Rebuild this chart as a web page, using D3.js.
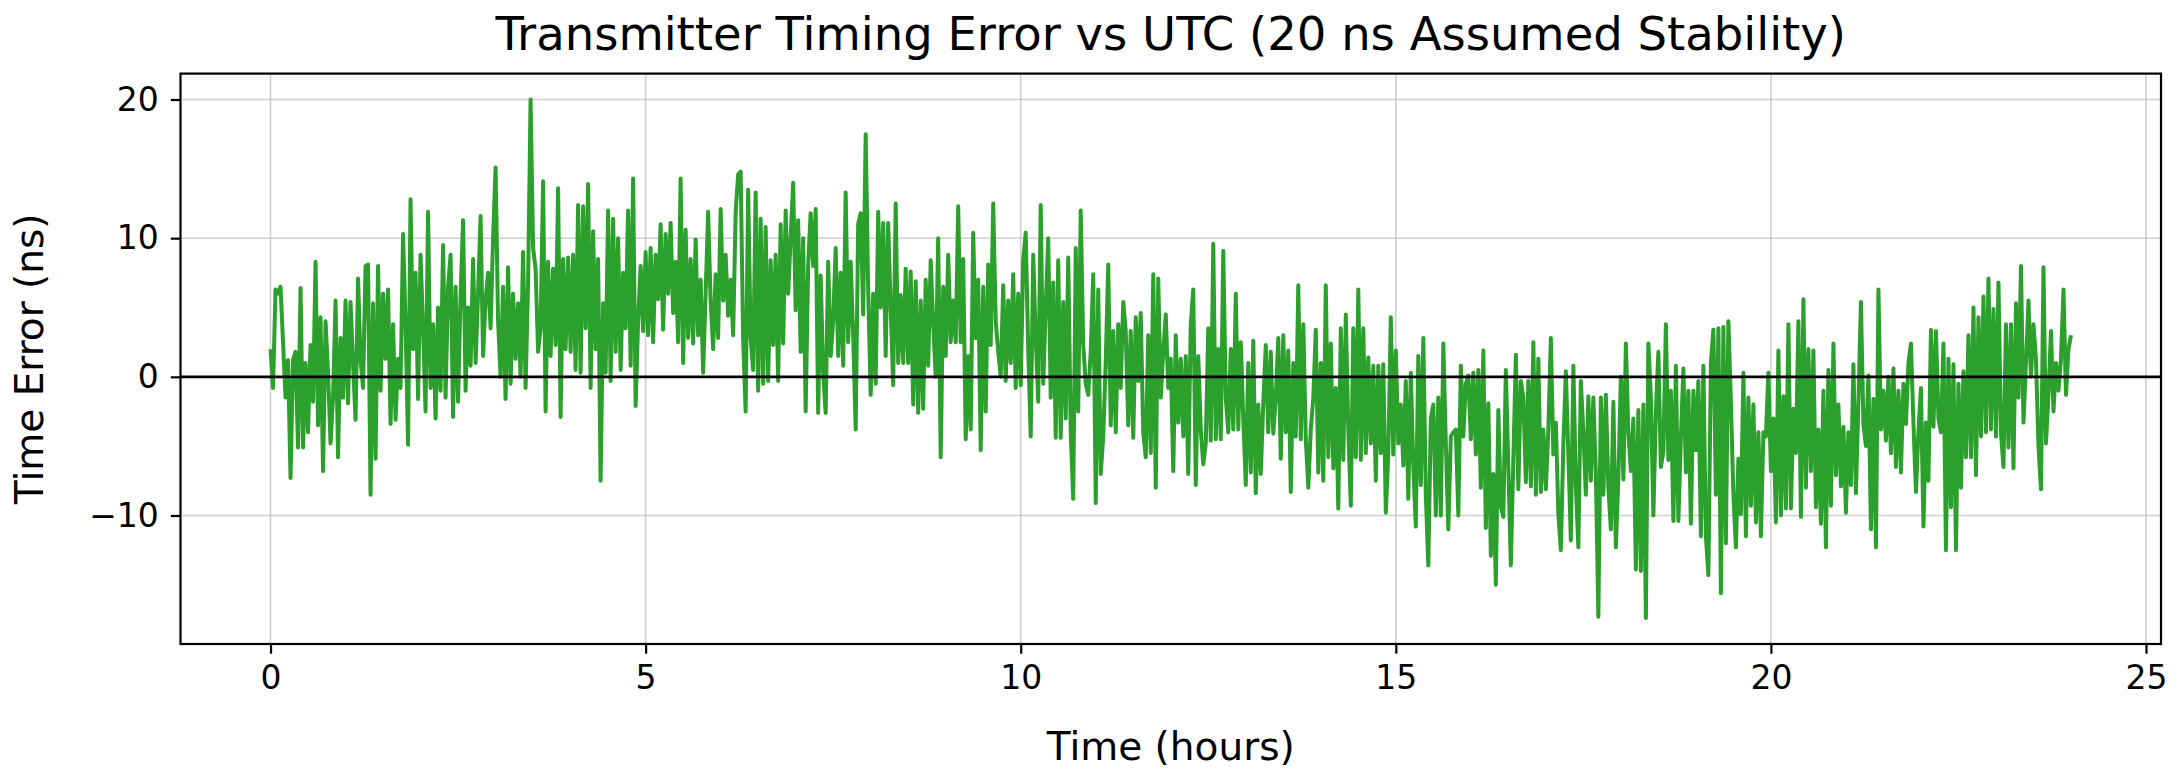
<!DOCTYPE html>
<html>
<head>
<meta charset="utf-8">
<script src="https://cdn.jsdelivr.net/npm/d3@7"></script>
<style>
  html, body { margin: 0; padding: 0; background: #fff; }
  svg { display: block; font-family: "DejaVu Sans", sans-serif; }
</style>
</head>
<body>
<div id="chart"></div>
<script>
// one sample every 2 minutes, 0 .. 24 h
var SAMPLE_MINUTES = 2;

// time error in ns in ~2 h blocks
var errorBlock1 = [2.0, -0.8, 6.3, 6.0, 6.5, 2.5, -1.5, 1.2, -7.3, 1.2, 1.8, -5.1, 6.4, -5.1, 1.0, -4.0, 2.3, -1.8, 8.3, -3.5, 4.3, -6.8, 4.0, 0.3, -4.8, -1.5, 5.5, -5.8, 2.8, -1.5, 5.5, -1.9, 5.4, 1.0, -3.1, 7.1, 1.2, -0.8, 8.0, 8.1, -8.5, 5.3, -5.9, 8.0, -1.0, 6.0, 1.3, 6.3, -3.4, 3.8, -3.1, 1.3, -0.8, 10.3, 3.8, -4.9, 12.8, 2.0];
var errorBlock2 = [7.5, -1.6, 8.8, 3.5, -2.5, 11.9, -0.8, 3.8, -3.0, 5.0, -1.0, 9.5, -1.5, 6.5, 8.8, -2.9, 6.5, -1.8, 5.8, 11.3, -1.0, 5.0, 0.8, 8.5, 1.0, 6.0, 11.6, 1.5, 5.5, 7.5, 3.5, 10.0, 15.1, 4.0, 0.0, 6.5, -1.6, 7.9, -0.5, 6.0, 1.3, 5.3, 0.0, 9.0, -0.8, 6.8, 20.0, 9.3, 7.8, 1.8, 3.5, 14.1, -2.5, 8.3, 1.5, 7.8, 2.3, 13.6, -2.9, 8.5];
var errorBlock3 = [2.0, 8.6, 1.8, 8.8, 0.5, 12.4, 0.3, 12.3, 3.5, 13.9, -0.8, 10.5, 2.0, 8.5, -7.5, 5.3, 0.3, 12.0, -0.3, 11.4, 1.8, 10.0, 0.5, 7.5, 3.5, 12.0, 0.8, 14.3, -2.1, 4.0, 8.0, 3.3, 9.0, 3.0, 9.3, 2.5, 8.8, 5.6, 11.0, 3.4, 10.3, 6.0, 11.1, 4.6, 8.3, 2.5, 14.3, 1.0, 10.6, 2.8, 8.5, 2.4, 9.9, 3.0, 7.0, 0.3, 6.0, 11.9, 5.5, 2.0];
var errorBlock4 = [7.4, 2.8, 12.1, 5.5, 8.8, 4.4, 7.0, 3.0, 11.8, 14.6, 14.8, 2.8, -2.5, 13.5, 2.8, 0.5, 13.3, -1.0, 11.4, -0.5, 10.8, -0.3, 8.4, 2.3, 8.8, -0.3, 11.0, 2.4, 12.0, 6.0, 10.0, 14.0, 4.8, 11.3, 1.8, 10.0, -2.5, 8.0, 11.8, 8.0, 12.1, -2.6, 7.3, 0.3, -2.6, 8.3, 1.5, 4.0, 9.3, 1.5, 7.5, 0.8, 13.3, 2.5, 8.3, 3.0, -3.8, 11.0, 11.8, 4.5];
var errorBlock5 = [17.5, 6.3, -1.3, 6.0, -0.5, 11.9, 5.0, 11.1, 1.5, 11.1, 5.0, -0.6, 12.5, 1.0, 5.9, 1.0, 7.8, 1.0, 7.6, -2.0, 6.9, -2.6, 5.5, -2.3, 7.0, 0.8, 8.4, 3.8, 0.0, 10.0, -5.8, 6.5, 1.5, 8.8, 2.5, 5.5, 2.5, 12.3, 2.5, 8.5, -4.5, 1.5, -3.8, 10.4, 2.8, 7.0, -5.3, 6.5, -2.5, 8.1, 2.3, 12.5, 4.0, 1.8, 0.0, 6.6, -0.3, 5.5, 1.0, 7.4];
var errorBlock6 = [-0.8, 6.0, -0.6, 8.4, 10.4, 2.0, -4.3, 8.8, 2.8, -1.8, 12.4, -0.5, 5.0, 10.0, -1.5, 6.8, -4.4, 8.4, -4.4, 5.4, -3.0, 8.6, -4.0, -8.8, 9.3, -2.5, 12.0, 2.3, -0.5, -1.3, 1.8, 7.4, -9.1, 6.3, -7.0, -4.3, 1.1, 8.1, -3.5, 3.3, -4.0, 3.8, -0.8, 5.4, 3.3, -3.5, 3.3, -4.4, 4.3, -0.3, 4.6, -4.0, -5.8, 3.0, -5.5, 7.4, -8.0, 7.1, -1.5, 1.8];
var errorBlock7 = [4.5, -0.8, 1.3, -6.8, 3.0, -3.3, 1.3, -4.3, 1.5, -7.0, 3.8, 6.3, -7.8, 1.5, -3.8, -6.3, -4.8, 3.5, -4.6, 9.6, -4.5, 2.0, -4.5, 9.1, -1.5, -4.0, 2.0, -3.8, 6.0, -3.8, 2.5, -3.0, -7.8, 1.0, -6.9, 2.6, -8.4, -2.0, -7.0, -1.9, 2.3, -4.0, 1.8, -4.1, -1.5, 2.8, -5.9, 3.0, -4.0, 1.9, -8.3, 1.0, -4.3, 6.6, -4.5, 3.8, -4.5, -8.0, -3.8, -1.5];
var errorBlock8 = [3.4, -6.9, 1.0, -7.5, 6.6, -5.8, 2.4, -6.6, -0.8, -9.5, 3.5, -6.0, 4.5, -3.8, -9.3, 3.5, -5.8, 6.3, -6.0, 3.5, -5.5, 1.4, -4.8, 0.8, -7.5, 0.8, -5.5, 0.9, -9.8, -5.6, 4.3, -5.6, 1.9, -4.8, -2.0, -6.4, -0.3, -8.8, 0.3, -6.5, -10.8, 1.5, -7.8, 2.8, -8.5, -13.6, -3.0, -2.0, -10.0, -1.5, -10.0, 2.4, -4.8, -11.0, -4.3, -4.0, -3.8, -10.0, 0.8, -4.3];
var errorBlock9 = [-0.5, 0.1, -4.5, 0.3, -5.6, 0.5, -8.0, 1.9, -10.9, -1.9, -12.9, -7.0, -15.0, -2.4, -9.4, -10.1, 0.5, -6.5, -13.6, -6.0, 1.6, -8.1, -0.3, -1.5, -7.6, -0.3, -7.9, 2.5, -8.5, 1.3, -8.3, -3.8, -8.1, -3.8, 2.8, -5.6, -3.3, -9.9, -12.5, -4.9, 0.4, -5.6, -11.8, 0.8, -7.8, -12.3, -0.3, -4.0, -8.5, -1.4, -7.5, -1.5, -7.0, -17.3, -1.5, -8.5, -1.3, -8.0, -11.0, -1.8];
var errorBlock10 = [-12.3, -7.3, 0.0, -7.4, 2.4, -4.0, -6.8, -3.0, -13.9, -2.4, -14.0, -2.0, -17.4, 2.4, -1.5, -10.0, -2.5, 1.8, -6.5, -5.4, 3.8, -6.0, -1.0, -10.4, 0.8, -10.4, -4.4, 0.6, -6.9, -1.0, -10.6, -1.0, -5.3, -0.3, -11.5, 0.8, -11.5, -14.3, 1.0, 3.4, -8.5, 3.5, -15.6, 3.6, -12.0, 4.0, -1.8, -8.5, -12.3, -5.9, -9.9, 0.3, -11.5, -1.5, -9.3, -2.0, -10.5, -4.0, -11.5, -4.0];
var errorBlock11 = [-4.3, 0.3, -6.8, -3.0, -10.5, 1.9, -10.0, -1.4, -9.5, 3.8, -9.5, -2.3, -5.5, 4.0, -10.1, 5.6, -8.0, 2.0, -6.8, 1.9, -9.4, -3.8, -10.6, -1.0, -12.3, 0.5, -9.3, 2.4, -7.1, -2.0, -7.9, -3.6, -9.8, -4.0, -7.8, 0.9, -8.4, -1.8, 5.4, -3.4, -5.0, 0.1, -11.0, -1.6, -12.3, 6.3, -3.8, -1.0, -4.6, 0.0, -5.5, 0.6, -6.5, -1.0, -6.9, -0.5, -3.4, 1.0, 2.4, -3.3];
var errorBlock12 = [-8.3, -4.0, -0.8, -10.8, -3.3, -7.5, 3.4, -3.6, 3.3, -3.0, -4.0, 2.4, -12.5, 1.3, -9.4, 0.9, -12.5, -0.5, -8.0, 0.4, -5.8, 3.0, -5.8, 5.0, -7.1, 4.3, -4.3, 5.8, -4.0, 7.1, -3.8, 4.9, -4.3, 6.8, -4.0, -6.5, 3.8, -5.1, 3.8, -6.6, 5.3, -1.5, 8.0, -3.3, 1.0, 5.5, 0.0, 3.8, 1.3, -5.0, -8.1, 7.9, -4.8, -1.3, 3.3, -2.5, 1.0, -1.0, 1.3, 6.3, -1.3, 2.0, 3.0];

var xTicks = [0, 5, 10, 15, 20, 25];
var yTicks = [-10, 0, 10, 20];

var titleText = "Transmitter Timing Error vs UTC (20 ns Assumed Stability)";
var xLabelText = "Time (hours)";
var yLabelText = "Time Error (ns)";

var errorNs = [].concat(errorBlock1, errorBlock2, errorBlock3, errorBlock4, errorBlock5, errorBlock6,
  errorBlock7, errorBlock8, errorBlock9, errorBlock10, errorBlock11, errorBlock12);
var series = errorNs.map(function (v, i) { return { t: i * SAMPLE_MINUTES / 60, v: v }; });

//Define dimensions
var W = 2177, H = 768;
var plot = { left: 180.5, right: 2161, top: 73.6, bottom: 644 };

var svg = d3.select("#chart").append("svg")
  .attr("width", W)
  .attr("height", H);

//matplotlib style 5% margins
var tExt = d3.extent(series, function (d) { return d.t; });
var vExt = d3.extent(series, function (d) { return d.v; });
var tPad = (tExt[1] - tExt[0]) * 0.05, vPad = (vExt[1] - vExt[0]) * 0.05;

var x = d3.scaleLinear()
  .domain([tExt[0] - tPad, tExt[1] + tPad])
  .range([plot.left, plot.right]);
var y = d3.scaleLinear()
  .domain([vExt[0] - vPad, vExt[1] + vPad])
  .range([plot.bottom, plot.top]);

function fmt(d) { return d < 0 ? "\u2212" + Math.abs(d) : String(d); }

//grid (below the data)
var grid = svg.append("g").attr("class", "grid")
  .attr("stroke", "#b0b0b0").attr("stroke-opacity", 0.6).attr("stroke-width", 1.6);
grid.selectAll("line.gx").data(xTicks).enter().append("line")
  .attr("x1", function (d) { return x(d); }).attr("x2", function (d) { return x(d); })
  .attr("y1", plot.top).attr("y2", plot.bottom);
grid.selectAll("line.gy").data(yTicks).enter().append("line")
  .attr("x1", plot.left).attr("x2", plot.right)
  .attr("y1", function (d) { return y(d); }).attr("y2", function (d) { return y(d); });

//the series
var line = d3.line()
  .x(function (d) { return x(d.t); })
  .y(function (d) { return y(d.v); });

svg.append("path")
  .datum(series)
  .attr("d", line)
  .attr("fill", "none")
  .attr("stroke", "#2ca02c")
  .attr("stroke-width", 4)
  .attr("stroke-linejoin", "round");

//zero reference
svg.append("line")
  .attr("x1", plot.left).attr("x2", plot.right)
  .attr("y1", y(0)).attr("y2", y(0))
  .attr("stroke", "#000").attr("stroke-width", 2.8);

//axes
var xAxis = d3.axisBottom(x).tickValues(xTicks).tickFormat(fmt).tickSize(9.7).tickPadding(12);
var yAxis = d3.axisLeft(y).tickValues(yTicks).tickFormat(fmt).tickSize(9.7).tickPadding(12);

var gx = svg.append("g").attr("transform", "translate(0," + plot.bottom + ")").call(xAxis);
var gy = svg.append("g").attr("transform", "translate(" + plot.left + ",0)").call(yAxis);

[gx, gy].forEach(function (g) {
  g.select(".domain").remove();
  g.selectAll(".tick line").attr("stroke", "#000").attr("stroke-width", 2.2);
  g.selectAll(".tick text")
    .attr("fill", "#000")
    .style("font-family", "'DejaVu Sans', sans-serif")
    .style("font-size", "33px");
});

//frame
svg.append("rect")
  .attr("x", plot.left).attr("y", plot.top)
  .attr("width", plot.right - plot.left).attr("height", plot.bottom - plot.top)
  .attr("fill", "none").attr("stroke", "#000").attr("stroke-width", 2.2);

//texts
svg.append("text")
  .attr("x", (plot.left + plot.right) / 2).attr("y", 50)
  .attr("text-anchor", "middle")
  .style("font-size", "46.5px")
  .text(titleText);

svg.append("text")
  .attr("x", (plot.left + plot.right) / 2).attr("y", 760)
  .attr("text-anchor", "middle")
  .style("font-size", "39px")
  .text(xLabelText);

svg.append("text")
  .attr("transform", "translate(43," + ((plot.top + plot.bottom) / 2) + ") rotate(-90)")
  .attr("text-anchor", "middle")
  .style("font-size", "39px")
  .text(yLabelText);
</script>
</body>
</html>
